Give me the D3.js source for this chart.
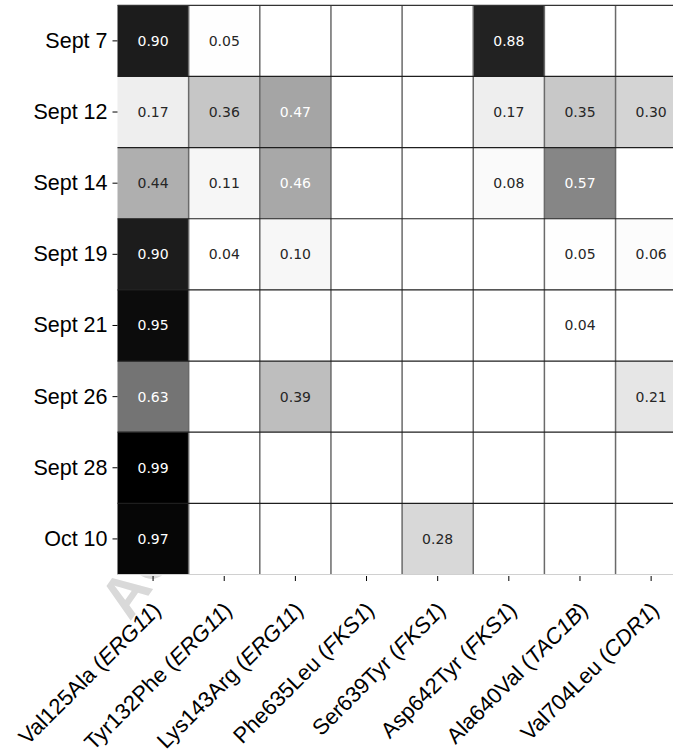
<!DOCTYPE html>
<html>
<head>
<meta charset="utf-8">
<script src="https://cdn.jsdelivr.net/npm/d3@7"></script>
<style>
  html, body { margin: 0; padding: 0; background: #fff; }
  svg { display: block; }
</style>
</head>
<body>
<svg id="chart" width="673" height="756"></svg>
<script>
// Sampling dates (rows)
const dates = ["Sept 7", "Sept 12", "Sept 14", "Sept 19", "Sept 21", "Sept 26", "Sept 28", "Oct 10"];

// Mutations (columns): amino-acid change and gene
const mutations = ["Val125Ala", "Tyr132Phe", "Lys143Arg", "Phe635Leu", "Ser639Tyr", "Asp642Tyr", "Ala640Val", "Val704Leu"];
const genes = ["ERG11", "ERG11", "ERG11", "FKS1", "FKS1", "FKS1", "TAC1B", "CDR1"];

// Allele frequency per date (one array per row, null = not detected)
const sept7  = [0.90, 0.05, null, null, null, 0.88, null, null];
const sept12 = [0.17, 0.36, 0.47, null, null, 0.17, 0.35, 0.30];
const sept14 = [0.44, 0.11, 0.46, null, null, 0.08, 0.57, null];
const sept19 = [0.90, 0.04, 0.10, null, null, null, 0.05, 0.06];
const sept21 = [0.95, null, null, null, null, null, 0.04, null];
const sept26 = [0.63, null, 0.39, null, null, null, null, 0.21];
const sept28 = [0.99, null, null, null, null, null, null, null];
const oct10  = [0.97, null, null, null, 0.28, null, null, null];

const rows = [sept7, sept12, sept14, sept19, sept21, sept26, sept28, oct10];

const cells = [];
rows.forEach((r, i) => r.forEach((v, j) => cells.push({ date: dates[i], mut: mutations[j], value: v })));

const svg = d3.select("#chart");
const W = 673;

const gridLeft = 117.5, gridTop = 5.3, cellSize = 71.15;
const x = d3.scaleBand().domain(mutations).range([gridLeft, gridLeft + cellSize * mutations.length]);
const y = d3.scaleBand().domain(dates).range([gridTop, gridTop + cellSize * dates.length]);
const gridBottom = gridTop + cellSize * dates.length;

// Greys colour ramp, linearly interpolated between ColorBrewer stops
const greys = ["#ffffff", "#f0f0f0", "#d9d9d9", "#bdbdbd", "#969696", "#737373", "#525252", "#252525", "#000000"];
const ext = d3.extent(cells.filter(d => d.value != null), d => d.value);
const color = d3.scaleLinear()
  .domain(greys.map((_, i) => ext[0] + (ext[1] - ext[0]) * i / (greys.length - 1)))
  .range(greys)
  .interpolate(d3.interpolateRgb);

// Faint diagonal watermark, visible only below the grid
const defs = svg.append("defs");
defs.append("clipPath").attr("id", "below")
  .append("rect").attr("x", 0).attr("y", gridBottom + 1).attr("width", W).attr("height", 756 - gridBottom);
svg.append("g").attr("clip-path", "url(#below)")
  .append("text")
  .attr("transform", "translate(130,622) rotate(-55)")
  .attr("font-family", "Liberation Sans, Arial, sans-serif")
  .attr("font-weight", "bold")
  .attr("font-size", 58)
  .attr("fill", "#d9d9d9")
  .text("ACCEPTED");

// Heatmap cells
const g = svg.append("g");
g.selectAll("rect.cell")
  .data(cells)
  .join("rect")
  .attr("class", "cell")
  .attr("x", d => x(d.mut))
  .attr("y", d => y(d.date))
  .attr("width", x.bandwidth())
  .attr("height", y.bandwidth())
  .attr("fill", d => d.value == null ? "#ffffff" : color(d.value));

// Grid lines: vertical in grey, horizontal darker
g.selectAll("line.v")
  .data(mutations.slice(1))
  .join("line")
  .attr("class", "v")
  .attr("x1", d => x(d)).attr("x2", d => x(d))
  .attr("y1", gridTop).attr("y2", gridBottom)
  .attr("stroke", "#6a6a6a").attr("stroke-width", 1.5);
g.selectAll("line.h")
  .data(dates.slice(1))
  .join("line")
  .attr("class", "h")
  .attr("x1", gridLeft).attr("x2", W)
  .attr("y1", d => y(d)).attr("y2", d => y(d))
  .attr("stroke", "#1e1e1e").attr("stroke-width", 1.2);
g.append("line")
  .attr("x1", gridLeft).attr("x2", W).attr("y1", gridTop).attr("y2", gridTop)
  .attr("stroke", "#333").attr("stroke-width", 1.2);
g.append("line")
  .attr("x1", gridLeft).attr("x2", W).attr("y1", gridBottom).attr("y2", gridBottom)
  .attr("stroke", "#d0d0d0").attr("stroke-width", 1);

// Value annotations
g.selectAll("text.val")
  .data(cells.filter(d => d.value != null))
  .join("text")
  .attr("class", "val")
  .attr("x", d => x(d.mut) + x.bandwidth() / 2)
  .attr("y", d => y(d.date) + y.bandwidth() / 2)
  .attr("text-anchor", "middle")
  .attr("dominant-baseline", "central")
  .attr("font-family", "DejaVu Sans, sans-serif")
  .attr("font-size", 14)
  .attr("fill", d => d.value > 0.45 ? "#ffffff" : "#262626")
  .text(d => d3.format(".2f")(d.value));

// Y axis (dates)
const yAxis = svg.append("g")
  .attr("transform", `translate(${gridLeft},0)`)
  .call(d3.axisLeft(y).tickSize(5).tickPadding(5));
yAxis.select(".domain").remove();
yAxis.selectAll(".tick line").attr("stroke", "#000").attr("stroke-width", 1);
yAxis.selectAll(".tick text")
  .attr("font-family", "Liberation Sans, Arial, sans-serif")
  .attr("font-size", 21.5)
  .attr("fill", "#000");

// X axis (mutations)
const xAxis = svg.append("g")
  .attr("transform", `translate(0,${gridBottom + 1.5})`)
  .call(d3.axisBottom(x).tickSize(5).tickFormat(""));
xAxis.select(".domain").remove();
xAxis.selectAll(".tick line").attr("stroke", "#000").attr("stroke-width", 1);

const labels = svg.append("g")
  .selectAll("text")
  .data(mutations)
  .join("text")
  .attr("transform", d => `translate(${x(d) + x.bandwidth() / 2 + 9},${gridBottom + 37}) rotate(-45)`)
  .attr("text-anchor", "end")
  .attr("font-family", "Liberation Sans, Arial, sans-serif")
  .attr("font-size", 22)
  .attr("fill", "#000");
labels.append("tspan").text(d => d + " (");
labels.append("tspan").attr("font-style", "italic").text((d, i) => genes[i]);
labels.append("tspan").text(")");
</script>
</body>
</html>
